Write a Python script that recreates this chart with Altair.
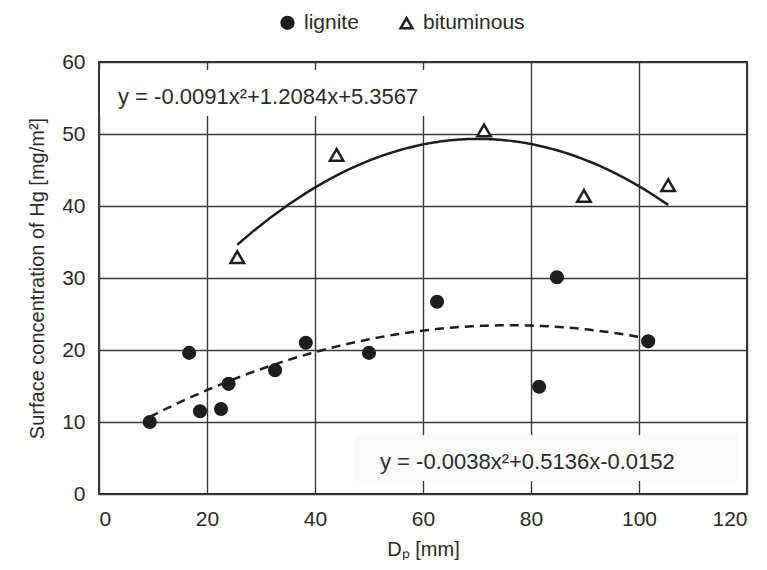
import altair as alt
import pandas as pd

# ---- data ----
lignite_x = [9.4, 16.7, 18.7, 22.6, 24.0, 32.6, 38.3, 50.0, 62.6, 81.5, 84.8, 101.7]
lignite_y = [10.0, 19.6, 11.5, 11.8, 15.3, 17.2, 21.0, 19.6, 26.7, 14.9, 30.1, 21.2]
bit_x = [25.6, 44.0, 71.3, 89.8, 105.4]
bit_y = [32.9, 47.1, 50.5, 41.4, 42.9]
series = ["lignite", "bituminous"]
equations = ["y = -0.0091x²+1.2084x+5.3567", "y = -0.0038x²+0.5136x-0.0152"]
x_ticks = [0, 20, 40, 60, 80, 100, 120]
y_ticks = [0, 10, 20, 30, 40, 50, 60]

df = pd.DataFrame({
    "x": lignite_x + bit_x,
    "y": lignite_y + bit_y,
    "type": [series[0]] * len(lignite_x) + [series[1]] * len(bit_x),
})

FONT = "Liberation Sans"
INK = "#1e1e1e"
TXT = "#2a2a2a"

xs = alt.Scale(domain=[0, 120], nice=False)
ys = alt.Scale(domain=[0, 60], nice=False)

x_axis = alt.Axis(values=x_ticks, grid=True, ticks=False, domain=False,
                  labelFontSize=21, labelPadding=14, labelColor=TXT, labelFont=FONT,
                  title="Dₚ [mm]", titleFontSize=20, titleFontWeight="normal",
                  titleColor=TXT, titleFont=FONT, titlePadding=10,
                  gridColor="#3a3a3a", gridWidth=1.4, gridOpacity=1)
y_axis = alt.Axis(values=y_ticks, grid=True, ticks=False, domain=False,
                  labelFontSize=21, labelPadding=14, labelColor=TXT, labelFont=FONT,
                  title="Surface concentration of Hg [mg/m²]", titleFontSize=20,
                  titleFontWeight="normal", titleColor=TXT, titleFont=FONT, titlePadding=14,
                  gridColor="#3a3a3a", gridWidth=1.4, gridOpacity=1)

leg = alt.Legend(title=None, orient="none", legendX=178, legendY=-50, direction="horizontal",
                 labelFontSize=21, labelFont=FONT, labelColor=TXT, symbolSize=140,
                 symbolStrokeWidth=2.5, columnPadding=36, labelOffset=6,
                 symbolStrokeColor=INK)

base = alt.Chart(df)

line_lig = base.transform_filter(alt.datum.type == series[0]).transform_regression(
    "x", "y", method="poly", order=2
).mark_line(color=INK, strokeWidth=2.5, strokeDash=[9, 6]).encode(
    x=alt.X("x:Q", scale=xs, axis=x_axis),
    y=alt.Y("y:Q", scale=ys, axis=y_axis),
)
line_bit = base.transform_filter(alt.datum.type == series[1]).transform_regression(
    "x", "y", method="poly", order=2
).mark_line(color=INK, strokeWidth=2.5).encode(
    x=alt.X("x:Q", scale=xs),
    y=alt.Y("y:Q", scale=ys),
)

points = base.transform_calculate(
    sz=f"datum.type == '{series[0]}' ? 135 : 180"
).mark_point(strokeWidth=2.5, opacity=1, fillOpacity=1).encode(
    x=alt.X("x:Q", scale=xs),
    y=alt.Y("y:Q", scale=ys),
    shape=alt.Shape("type:N", scale=alt.Scale(domain=series, range=["circle", "triangle-up"]), legend=leg),
    fill=alt.Fill("type:N", scale=alt.Scale(domain=series, range=[INK, "#ffffff"]), legend=leg),
    stroke=alt.Stroke("type:N", scale=alt.Scale(domain=series, range=[INK, INK]), legend=leg),
    size=alt.Size("sz:Q", scale=None),
)

box1 = alt.Chart(pd.DataFrame({"eq": [equations[0]]})).mark_rect(fill="white").encode(
    x=alt.value(1), x2=alt.value(332), y=alt.value(8), y2=alt.value(54))
box2 = alt.Chart(pd.DataFrame({"eq": [equations[1]]})).mark_rect(fill="#fbfbfb").encode(
    x=alt.value(256), x2=alt.value(639), y=alt.value(373), y2=alt.value(419))

txt1 = alt.Chart(pd.DataFrame({"eq": [equations[0]]})).mark_text(
    align="left", baseline="middle", fontSize=22, font=FONT, color=TXT
).encode(text="eq:N", x=alt.value(19), y=alt.value(35))
txt2 = alt.Chart(pd.DataFrame({"eq": [equations[1]]})).mark_text(
    align="left", baseline="middle", fontSize=22, font=FONT, color=TXT
).encode(text="eq:N", x=alt.value(281), y=alt.value(400))

chart = alt.layer(box1, box2, txt1, txt2, line_lig, line_bit, points).properties(
    width=648, height=432,
    autosize=alt.AutoSizeParams(type="none"),
    padding={"left": 91, "top": 54, "right": 12, "bottom": 66},
    background="white",
).configure_view(
    stroke="#222222", strokeWidth=1.8
)

chart.save("out.html", embed_options={"renderer": "svg", "actions": False})
